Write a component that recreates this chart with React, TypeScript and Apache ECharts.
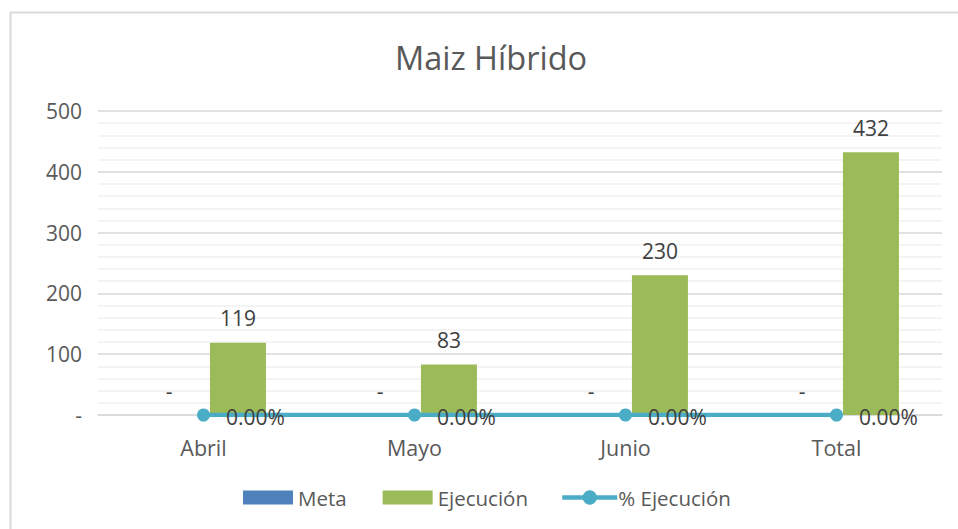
import React, { useEffect, useRef } from "react";
import * as echarts from "echarts";

const categories = ["Abril", "Mayo", "Junio", "Total"];
const meta = [0, 0, 0, 0];
const ejecucion = [119, 83, 230, 432];
const pctEjecucion = [0, 0, 0, 0];
const titleText = "Maiz Híbrido";
const seriesNames = ["Meta", "Ejecución", "% Ejecución"];

const FONT = "'Open Sans', 'Noto Sans', sans-serif";

export default function App() {
  const ref = useRef<HTMLDivElement>(null);
  useEffect(() => {
    if (!ref.current) return;
    const chart = echarts.init(ref.current, null, { renderer: "svg" });
    const legendText = { fontSize: 20.5, color: "#595959", fontFamily: FONT };
    chart.setOption({
      animation: false,
      backgroundColor: "#ffffff",
      textStyle: { fontFamily: FONT },
      graphic: [
        { type: "line", shape: { x1: 10, y1: 12.5, x2: 958, y2: 12.5 }, style: { stroke: "#D9D9D9", lineWidth: 2 } },
        { type: "line", shape: { x1: 10.5, y1: 12, x2: 10.5, y2: 529 }, style: { stroke: "#D9D9D9", lineWidth: 2 } },
        {
          type: "text",
          x: 491,
          y: 57,
          style: {
            text: titleText,
            font: `32.5px ${FONT}`,
            fill: "#595959",
            align: "center",
            verticalAlign: "middle",
          },
        },
      ],
      legend: [
        {
          left: 238,
          top: 482,
          itemWidth: 50,
          itemHeight: 14,
          itemGap: 36,
          textStyle: legendText,
          data: [
            { name: seriesNames[0], icon: "rect" },
            { name: seriesNames[1], icon: "rect" },
          ],
        },
        {
          left: 555,
          top: 482,
          itemWidth: 55,
          itemHeight: 18,
          textStyle: { ...legendText, padding: [0, 0, 0, -4] },
          data: [{ name: seriesNames[2], lineStyle: { width: 4.5 } }],
        },
      ],
      grid: { left: 98, right: 16, top: 111, bottom: 114, containLabel: false },
      xAxis: {
        type: "category",
        data: categories,
        axisTick: { show: false },
        axisLine: { show: true, lineStyle: { color: "#D9D9D9", width: 1.5 } },
        axisLabel: { color: "#595959", fontSize: 21.5, margin: 21, fontFamily: FONT },
      },
      yAxis: [
        {
          type: "value",
          min: 0,
          max: 500,
          interval: 100,
          axisLine: { show: false },
          axisTick: { show: false },
          axisLabel: {
            color: "#595959",
            fontSize: 21,
            margin: 16,
            fontFamily: FONT,
            formatter: (v: number) => (v === 0 ? "-" : String(v)),
          },
          splitLine: { lineStyle: { color: "#D9D9D9", width: 1.5 } },
          minorTick: { show: false, splitNumber: 5 },
          minorSplitLine: { show: true, lineStyle: { color: "#F0F0F0", width: 1.5 } },
        },
        {
          type: "value",
          min: 0,
          max: 1,
          show: false,
          splitLine: { show: false },
        },
      ],
      series: [
        {
          name: seriesNames[0],
          type: "bar",
          data: meta,
          barWidth: 56,
          barGap: "23%",
          itemStyle: { color: "#4F81BD" },
          label: {
            show: true,
            position: "top",
            distance: 14,
            color: "#404040",
            fontSize: 21,
            fontFamily: FONT,
            formatter: (p: any) => (p.value === 0 ? "-" : String(p.value)),
          },
        },
        {
          name: seriesNames[1],
          type: "bar",
          data: ejecucion,
          barWidth: 56,
          barGap: "23%",
          itemStyle: { color: "#9BBB59" },
          label: {
            show: true,
            position: "top",
            distance: 14,
            color: "#404040",
            fontSize: 21,
            fontFamily: FONT,
          },
        },
        {
          name: seriesNames[2],
          type: "line",
          yAxisIndex: 1,
          data: pctEjecucion,
          symbol: "circle",
          symbolSize: 13,
          z: 5,
          lineStyle: { color: "#4BACC6", width: 4.5 },
          itemStyle: { color: "#4BACC6" },
          label: {
            show: true,
            position: "right",
            distance: 16,
            offset: [0, 2],
            color: "#404040",
            fontSize: 21,
            fontFamily: FONT,
            formatter: (p: any) => (p.value * 100).toFixed(2) + "%",
          },
        },
      ],
    });
    return () => chart.dispose();
  }, []);
  return (
    <div
      ref={ref}
      style={{ position: "fixed", left: 0, top: 0, width: 958, height: 529 }}
    />
  );
}
